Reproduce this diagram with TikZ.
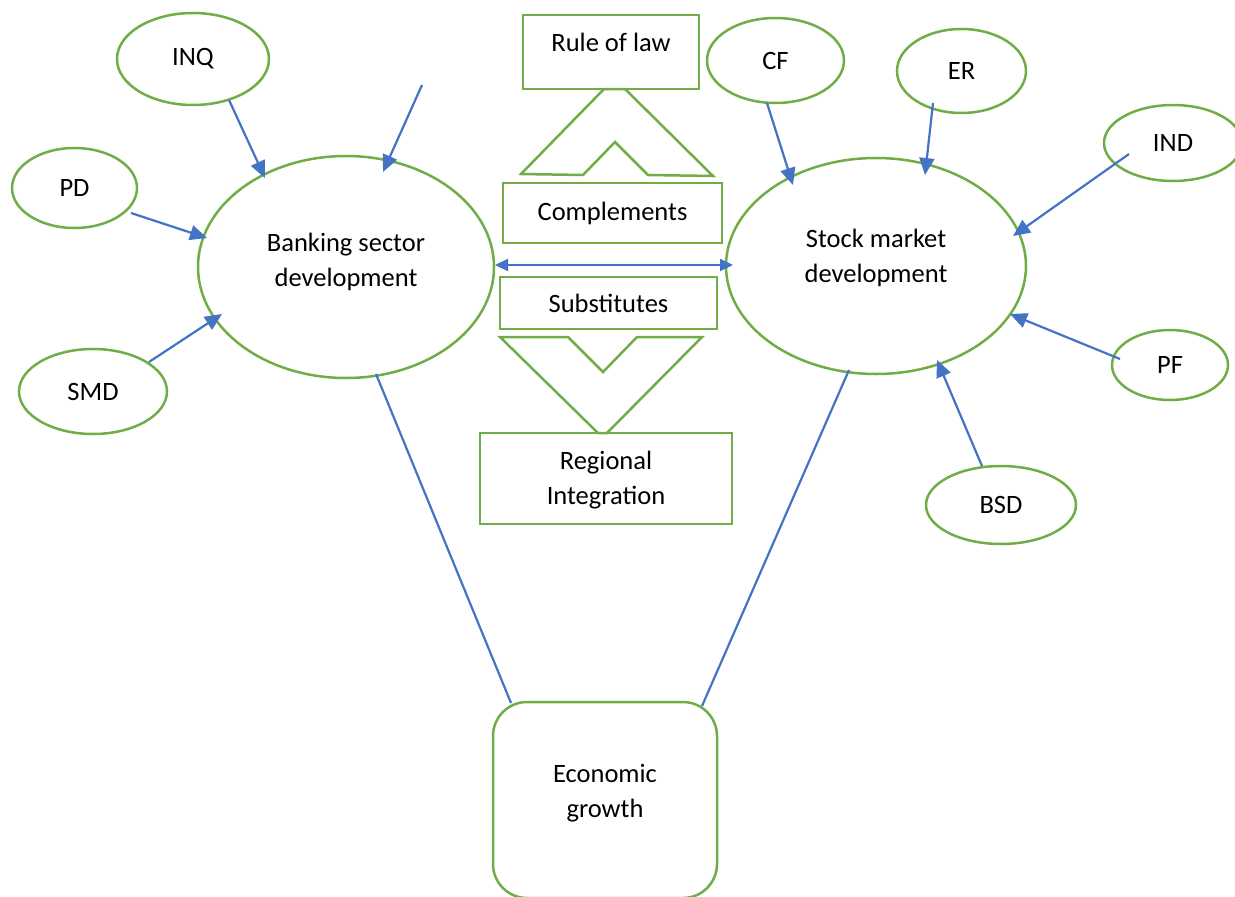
\documentclass[tikz,border=0pt]{standalone}
\usepackage{fontspec}
\setmainfont{Carlito}
\usetikzlibrary{shapes.geometric,arrows.meta}
\definecolor{leaf}{HTML}{70AD47}
\definecolor{steel}{HTML}{4472C4}
\tikzset{
  oval/.style={draw=leaf, line width=2.5pt, ellipse, inner sep=0pt},
  boxed/.style={draw=leaf, line width=2.5pt, rectangle, inner sep=0pt, align=center},
  chevron/.style={draw=leaf, line width=2.5pt, line join=miter},
  feed/.style={draw=steel, line width=2.2pt, -{Triangle[length=17pt,width=15pt]}},
  both/.style={draw=steel, line width=2.2pt, {Triangle[length=13pt,width=12pt]}-{Triangle[length=13pt,width=12pt]}},
  link/.style={draw=steel, line width=2.2pt},
}
\begin{document}
\begin{tikzpicture}[x=1pt,y=-1pt,font=\fontsize{26.5}{35}\selectfont]
\useasboundingbox (0,0) rectangle (1235,897);
\clip (0,0) rectangle (1235,897);

% central ellipses
\node[oval, minimum width=296pt, minimum height=222pt,
      label={[align=center,yshift=5pt]center:Banking sector\\development}] (bank) at (346,267) {};
\node[oval, minimum width=300pt, minimum height=216pt,
      label={[align=center,yshift=8pt]center:Stock market\\development}] (stock) at (876,266) {};

% determinants of banking sector development
\node[oval, minimum width=152pt, minimum height=92pt] (inq) at (193,59) {INQ};
\node[oval, minimum width=125pt, minimum height=80pt] (pd) at (74.5,188) {PD};
\node[oval, minimum width=148pt, minimum height=85pt] (smd) at (93,391.5) {SMD};
\coordinate (free) at (422,85);

% determinants of stock market development
\node[oval, minimum width=137pt, minimum height=85pt] (cf) at (775.5,60.5) {CF};
\node[oval, minimum width=129pt, minimum height=84pt] (er) at (961.5,71) {ER};
\node[oval, minimum width=138pt, minimum height=76pt] (ind) at (1173,143) {IND};
\node[oval, minimum width=116pt, minimum height=70pt] (pf) at (1170,365) {PF};
\node[oval, minimum width=150pt, minimum height=78pt] (bsd) at (1001,505) {BSD};

% middle column
\node[boxed, minimum width=176pt, minimum height=74pt,
      label={[yshift=10pt]center:Rule of law}] (law) at (611,52) {};
\node[boxed, minimum width=219pt, minimum height=60pt] (comp) at (612.5,213) {Complements};
\node[boxed, minimum width=217pt, minimum height=52pt] (subs) at (608.5,303) {Substitutes};
\node[boxed, minimum width=252pt, minimum height=91pt,
      label={[align=center,yshift=-2pt]center:Regional\\Integration}] (reg) at (606,478.5) {};

% outcome
\node[draw=leaf, line width=2.5pt, rounded corners=34pt, inner sep=0pt,
      minimum width=224pt, minimum height=196pt,
      label={[align=center,yshift=7pt]center:Economic\\growth}] (eg) at (605,800) {};

% chevrons between the middle boxes
\draw[chevron] (604,89) -- (625,89) -- (713,176) -- (648,175) -- (615,142)
  -- (583,175) -- (521,174) -- cycle;
\draw[chevron] (500,337) -- (568,337) -- (603,372) -- (637,337) -- (702,337)
  -- (607,433) -- (598,433) -- cycle;

% arrows into banking sector development
\draw[feed] ([shift={(36,41)}]inq.center) -- ([shift={(-81,-89)}]bank.center);
\draw[feed] (free) -- ([shift={(37,-95)}]bank.center);
\draw[feed] ([shift={(56.5,25)}]pd.center) -- ([shift={(-139,-29)}]bank.center);
\draw[feed] ([shift={(56,-29.5)}]smd.center) -- ([shift={(-124,47)}]bank.center);

% arrows into stock market development
\draw[feed] ([shift={(-8.5,42.5)}]cf.center) -- ([shift={(-83,-81)}]stock.center);
\draw[feed] ([shift={(-28.5,32)}]er.center) -- ([shift={(49,-91)}]stock.center);
\draw[feed] ([shift={(-44,11)}]ind.center) -- ([shift={(137,-30)}]stock.center);
\draw[feed] ([shift={(-50,-6)}]pf.center) -- ([shift={(134,48)}]stock.center);
\draw[feed] ([shift={(-19,-39)}]bsd.center) -- ([shift={(61,94)}]stock.center);

% two-way link between the sectors
\draw[both] ([shift={(149,-2)}]bank.center) -- ([shift={(-143,-1)}]stock.center);

% links to economic growth
\draw[link] ([shift={(30,107)}]bank.center) -- ([shift={(-94,-97)}]eg.center);
\draw[link] ([shift={(-27,104)}]stock.center) -- ([shift={(97,-94)}]eg.center);
\end{tikzpicture}
\end{document}
